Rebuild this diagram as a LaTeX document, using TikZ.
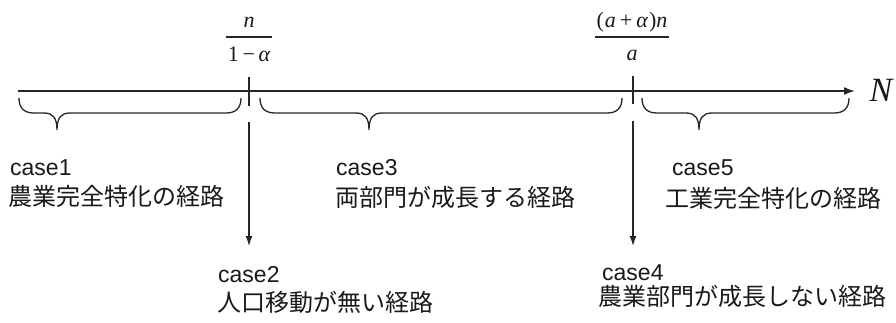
\documentclass[tikz,border=0pt]{standalone}
\usepackage{fontspec}
\setmainfont{Liberation Sans}
\newfontfamily\jpfont{Noto Sans CJK JP}
\newfontfamily\mathserif{Liberation Serif}
\usetikzlibrary{arrows.meta}
\newcommand\drawbrace[3]{%
  \draw[bracestyle] (#1,98) .. controls (#1,108) and (#1+5,113) .. (#1+15,113)
    -- (#2-13,113) .. controls (#2-4,113) and (#2,118) .. (#2,130)
    .. controls (#2,118) and (#2+4,113) .. (#2+13,113)
    -- (#3-15,113) .. controls (#3-5,113) and (#3,108) .. (#3,98);}
\begin{document}
\begin{tikzpicture}[x=1pt,y=-1pt,
  axisline/.style={line width=1.7pt, draw=black!85, -{Latex[length=11pt,width=8pt]}},
  tickline/.style={line width=1.3pt, draw=black!85},
  bracestyle/.style={line width=1.3pt, draw=black!85},
  fracbar/.style={line width=1.1pt, draw=black!85},
  downarrow/.style={line width=1.3pt, draw=black!85, -{Latex[length=10pt,width=7pt]}},
  lbl/.style={font=\fontsize{23}{23}\selectfont, anchor=base west, inner sep=0pt, text=black!90},
  jlbl/.style={font=\jpfont\fontsize{24}{24}\selectfont, anchor=base west, inner sep=0pt, text=black!90},
  fracl/.style={font=\mathserif\fontsize{22}{24}\selectfont, anchor=base, inner xsep=1.5pt, inner ysep=0pt, text=black!90}]
\useasboundingbox (0,0) rectangle (896,322);
% axis
\coordinate (a0) at (18,91);
\coordinate (a1) at (855,91);
\draw[axisline] (a0) -- (a1);
\node[inner sep=0pt, font=\mathserif\itshape\fontsize{34}{34}\selectfont, text=black!90] (N) at (881,90) {N};
% ticks
\coordinate (t1a) at (249,77); \coordinate (t1b) at (249,106);
\coordinate (t2a) at (633,76); \coordinate (t2b) at (633,104);
\draw[tickline] (t1a) -- (t1b);
\draw[tickline] (t2a) -- (t2b);
% fractions
\coordinate (bar1) at (249,37);
\coordinate (bar2) at (632,37);
\node[fracl] (f1n) at (249,27) {\itshape n};
\node[fracl] (f1d) at (249,61) {1\,−\,\itshape α};
\draw[fracbar] (f1d.west |- bar1) -- (f1d.east |- bar1);
\node[fracl] (f2n) at (632,27) {(\kern1pt\textit{a}\kern4pt+\kern4pt\textit{α}\kern1pt)\textit{n}};
\node[fracl] (f2d) at (632,60) {\itshape a};
\draw[fracbar] (f2n.west |- bar2) -- (f2n.east |- bar2);
% braces
\drawbrace{19}{57}{241}
\drawbrace{260}{369}{622}
\drawbrace{642}{699}{849}
% down arrows
\coordinate (d1s) at (249,122); \coordinate (d1e) at (249,246);
\coordinate (d2s) at (633,121); \coordinate (d2e) at (633,246);
\draw[downarrow] (d1s) -- (d1e);
\draw[downarrow] (d2s) -- (d2e);
% labels
\node[lbl] (c1) at (10,175) {case1};
\node[jlbl] (j1) at (8,205) {農業完全特化の経路};
\node[lbl] (c3) at (336,175) {case3};
\node[jlbl] (j3) at (335,206) {両部門が成長する経路};
\node[lbl] (c5) at (672,175) {case5};
\node[jlbl] (j5) at (665,207) {工業完全特化の経路};
\node[lbl] (c2) at (218,282) {case2};
\node[jlbl] (j2) at (217,311) {人口移動が無い経路};
\node[lbl] (c4) at (602,280) {case4};
\node[jlbl] (j4) at (598,305) {農業部門が成長しない経路};
\end{tikzpicture}
\end{document}
